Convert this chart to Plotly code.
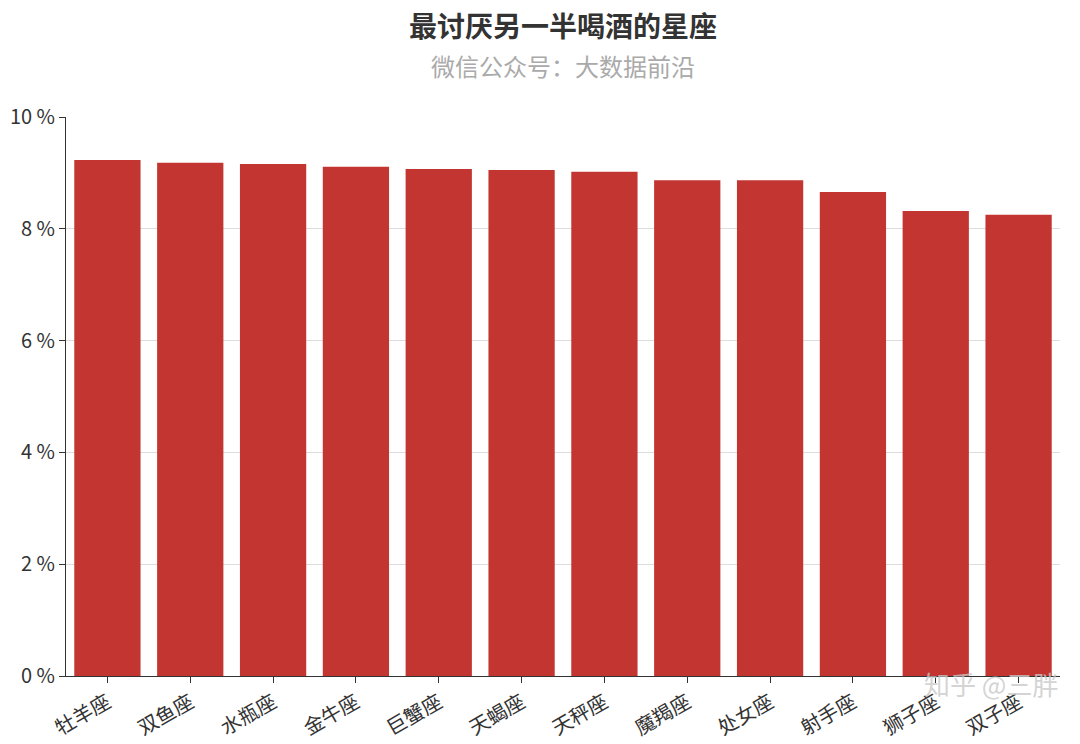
import plotly.graph_objects as go

signs = ["牡羊座", "双鱼座", "水瓶座", "金牛座", "巨蟹座", "天蝎座",
         "天秤座", "魔羯座", "处女座", "射手座", "狮子座", "双子座"]
share = [9.23, 9.18, 9.16, 9.11, 9.07, 9.05, 9.02, 8.87, 8.87, 8.66, 8.32, 8.25]
y_ticks = [0, 2, 4, 6, 8, 10]

font = "Noto Sans CJK SC"

fig = go.Figure()
fig.add_trace(go.Bar(x=signs, y=share, marker_color="#c23531", marker_line_width=0))

fig.update_layout(
    width=1080, height=744,
    paper_bgcolor="white", plot_bgcolor="white",
    margin=dict(l=58, r=28, t=109, b=76, autoexpand=False),
    bargap=0.2,
    showlegend=False,
    font=dict(family=font, color="#333"),
    xaxis=dict(
        tickangle=-30, tickfont=dict(size=20, color="#333"),
        showline=True, linecolor="#333", ticks="outside", ticklen=6, tickcolor="#333",
    ),
    yaxis=dict(
        range=[0, 10], tickvals=y_ticks, ticktext=[f"{v} %" for v in y_ticks],
        tickfont=dict(size=20, color="#333"),
        showgrid=True, gridcolor="#ddd",
        showline=True, linecolor="#333", ticks="outside", ticklen=6, tickcolor="#333",
        zeroline=False,
    ),
)

fig.add_annotation(text="<b>最讨厌另一半喝酒的星座</b>", xref="paper", yref="paper",
                   x=0.5, y=1, yshift=92, yanchor="middle", showarrow=False,
                   font=dict(size=28, color="#333", family=font))
fig.add_annotation(text="微信公众号：大数据前沿", xref="paper", yref="paper",
                   x=0.5, y=1, yshift=52, yanchor="middle", showarrow=False,
                   font=dict(size=24, color="#aaa", family=font))
fig.add_annotation(text="知乎 @三胖", xref="paper", yref="paper", x=1.0, y=-0.05,
                   xanchor="right", showarrow=False,
                   font=dict(size=26, color="rgba(200,200,200,0.8)", family=font))

fig.write_html("out.html")
